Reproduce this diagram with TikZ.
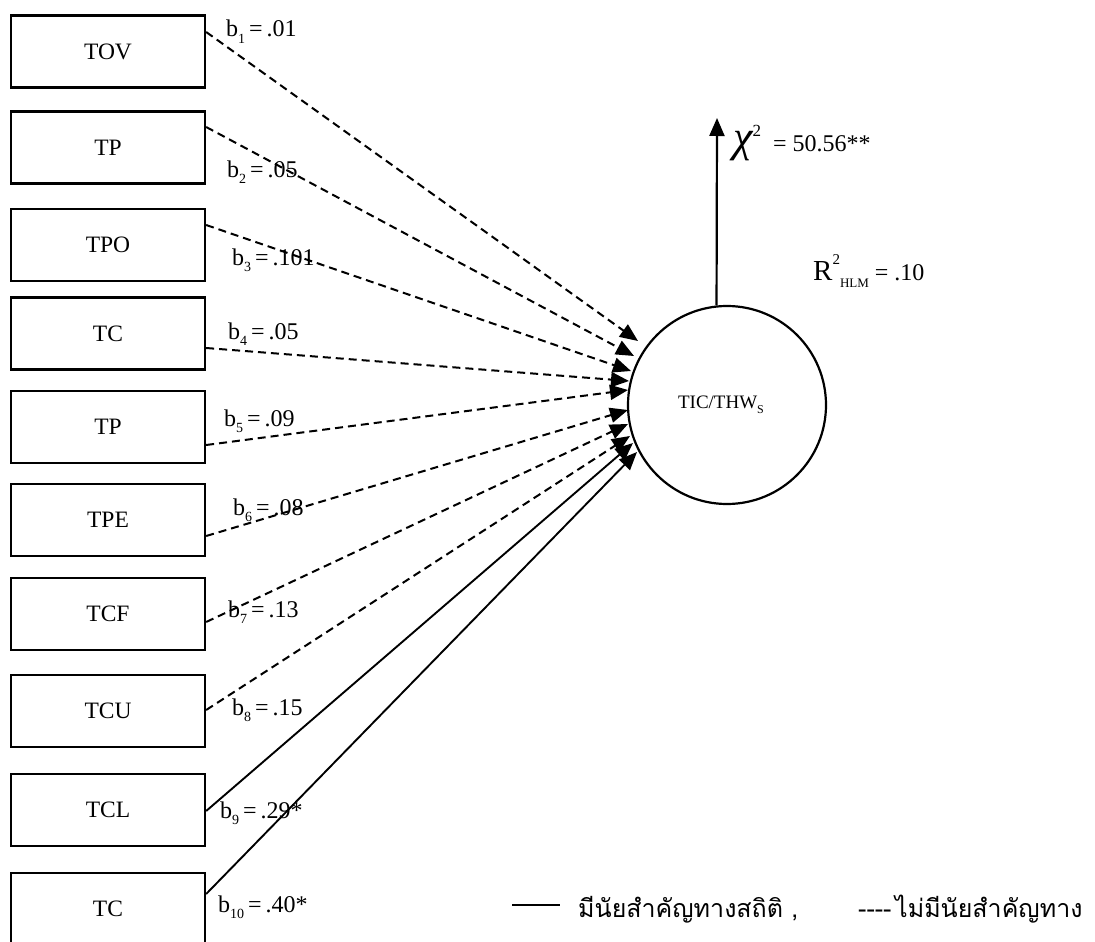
\documentclass[tikz,border=0pt]{standalone}
\usepackage{fontspec}
\setmainfont{Liberation Serif}
\newfontfamily\thaifont[Script=Thai]{Loma}
\usetikzlibrary{arrows.meta,calc}
\newcommand\blab[2]{b\raisebox{-0.28em}{\fontsize{14}{14}\selectfont #1}\,=\,#2}
\begin{document}
\begin{tikzpicture}[x=1pt,y=-1pt,
  varbox/.style={draw,line width=2.3pt,minimum width=194pt,minimum height=72pt,inner sep=0pt,font=\fontsize{23.5}{23.5}\selectfont},
  lab/.style={anchor=base west,inner sep=0pt,font=\fontsize{24}{24}\selectfont},
  ns/.style={line width=2pt,dash pattern=on 8pt off 5pt,-{Triangle[length=18pt,width=15pt]}},
  sig/.style={line width=1.9pt,-{Triangle[length=18pt,width=15pt]}},
  thai/.style={anchor=base west,inner sep=0pt,font=\thaifont\fontsize{25}{25}\selectfont}]
\useasboundingbox (0,0) rectangle (1095,942);
% boxes
\node[varbox] (b1) at (108,51.5) {TOV};
\node[varbox] (b2) at (108,147.5) {TP};
\node[varbox] (b3) at (108,245) {TPO};
\node[varbox] (b4) at (108,333.5) {TC};
\node[varbox] (b5) at (108,427) {TP};
\node[varbox] (b6) at (108,520) {TPE};
\node[varbox] (b7) at (108,614) {TCF};
\node[varbox] (b8) at (108,711) {TCU};
\node[varbox] (b9) at (108,810) {TCL};
\node[varbox] (b10) at (108,909) {TC};
% outcome circle
\node[draw,circle,line width=2.2pt,minimum size=198pt,inner sep=0pt,font=\fontsize{19}{19}\selectfont] (c) at (727,405) {TIC/THW\raisebox{-0.25em}{\fontsize{12}{12}\selectfont S}\hspace*{12pt}};
% arrow tips
\coordinate (t1) at (638,341);
\coordinate (t2) at (634,356);
\coordinate (t3) at (631,371);
\coordinate (t4) at (629,381);
\coordinate (t5) at (628,390);
\coordinate (t6) at (628,410);
\coordinate (t7) at (628,424);
\coordinate (t8) at (630,436);
\coordinate (t9) at (633,443);
\coordinate (t10) at (637,452);
% connectors
\draw[ns] ($(b1.east)+(0,-19.5)$) -- (t1);
\draw[ns] ($(b2.east)+(0,-20.5)$) -- (t2);
\draw[ns] ($(b3.east)+(0,-20)$) -- (t3);
\draw[ns] ($(b4.east)+(0,14.5)$) -- (t4);
\draw[ns] ($(b5.east)+(0,18)$) -- (t5);
\draw[ns] ($(b6.east)+(0,16)$) -- (t6);
\draw[ns] ($(b7.east)+(0,8)$) -- (t7);
\draw[ns] ($(b8.east)+(0,-1)$) -- (t8);
\draw[sig] ($(b9.east)+(0,1)$) -- (t9);
\draw[sig] ($(b10.east)+(0,-15)$) -- (t10);
% labels
\node[lab] (l1) at (226,37) {\blab{1}{.01}};
\node[lab] (l2) at (227,177) {\blab{2}{.05}};
\node[lab] (l3) at (232,265) {\blab{3}{.101}};
\node[lab] (l4) at (228,339) {\blab{4}{.05}};
\node[lab] (l5) at (224,426) {\blab{5}{.09}};
\node[lab] (l6) at (233,515) {\blab{6}{.08}};
\node[lab] (l7) at (228,617) {\blab{7}{.13}};
\node[lab] (l8) at (232,715) {\blab{8}{.15}};
\node[lab] (l9) at (220,818) {\blab{9}{.29*}};
\node[lab] (l10) at (218,912) {\blab{10}{.40*}};
% chi-square arrow
\coordinate (up) at (717,118);
\draw[line width=2.2pt,-{Triangle[length=18pt,width=15pt]}] (c.96) -- (up);
\node[lab] (chi) at (733,151) {{\fontsize{44}{44}\selectfont\itshape χ}\raisebox{0.6em}{\fontsize{17}{17}\selectfont 2}\ \ = 50.56**};
\node[lab] (r2) at (813,280) {{\fontsize{29}{29}\selectfont R}\raisebox{0.65em}{\fontsize{15}{15}\selectfont 2}{\raisebox{-0.3em}{\fontsize{13}{13}\selectfont HLM}} = .10};
% legend
\coordinate (lg1) at (512,905);
\coordinate (lg2) at (560,905);
\draw[line width=1.8pt] (lg1) -- (lg2);
\node[thai] (leg1) at (578,917) {มีนัยสำคัญทางสถิติ ,};
\node[thai] (leg2) at (858,917) {-{}-{}-{}-};
\node[thai] (leg3) at (895,917) {ไม่มีนัยสำคัญทาง};
\end{tikzpicture}
\end{document}
